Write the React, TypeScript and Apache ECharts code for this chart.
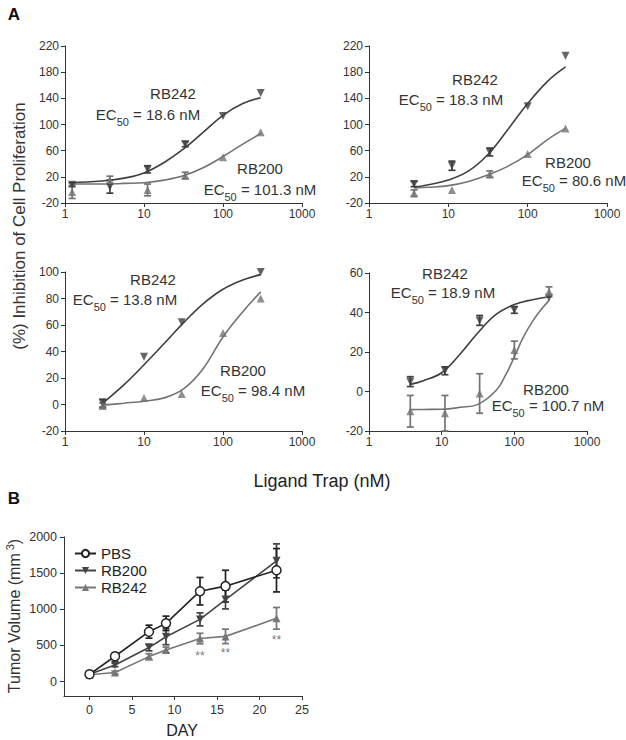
import React, { useEffect, useRef } from "react";
import * as echarts from "echarts";

// ---------- Panel A data ----------
// Top-left
const TL_X = [1.23, 3.7, 11.1, 33.3, 100, 300];
const TL_RB242 = [8, 5, 31.5, 70, 113, 148];
const TL_RB242_ERR = [3, 10, 5.5, 4, 0, 0];
const TL_RB200 = [-3, 15, 0, 22, 50, 88];
const TL_RB200_ERR = [10, 6, 9, 5, 0, 0];
const TL_FIT_X = [1.2, 1.8, 3.2, 5.6, 10, 18, 32, 56, 100, 178, 300];
const TL_FIT242_Y = [11, 12, 14, 18, 26, 42, 63, 88, 114, 132, 141];
const TL_FIT200_Y = [9, 9, 9, 10, 11, 15, 22, 34, 51, 70, 86];

// Top-right
const TR_X = [3.7, 11.1, 33.3, 100, 300];
const TR_RB242 = [9, 37, 58, 128, 205];
const TR_RB242_ERR = [4, 7, 6, 0, 0];
const TR_RB200 = [-5, 0, 24, 55, 94];
const TR_RB200_ERR = [5, 0, 5, 0, 0];
const TR_FIT_X = [3.7, 5.6, 10, 18, 32, 56, 100, 178, 300];
const TR_FIT242_Y = [4, 8, 15, 29, 55, 92, 132, 166, 188];
const TR_FIT200_Y = [3, 4, 6.5, 13, 23, 36, 54, 77, 94];

// Bottom-left
const BL_X242 = [3, 10, 30, 300];
const BL_RB242 = [1, 36, 62, 100];
const BL_RB242_ERR = [3, 0, 0, 0];
const BL_X200 = [3, 10, 30, 100, 300];
const BL_RB200 = [-1, 5, 8, 54, 80];
const BL_RB200_ERR = [2, 0, 0, 0, 0];
const BL_FIT_X = [3, 5.6, 10, 18, 32, 56, 100, 178, 300];
const BL_FIT242_Y = [1, 15, 30, 46, 62, 76, 87, 94, 98];
const BL_FIT200_Y = [-0.5, 1, 2.5, 5, 12, 27, 51, 70, 85];

// Bottom-right
const BR_X = [3.7, 11.1, 33.3, 100, 300];
const BR_RB242 = [5, 10.5, 36, 41.3, 47.5];
const BR_RB242_ERR = [2.5, 2, 2.5, 1.7, 0];
const BR_RB200 = [-10, -11, -1, 21, 50.5];
const BR_RB200_ERR = [8, 9, 10, 4.5, 2.5];
const BR_FIT242_X = [3.7, 5.6, 10, 18, 32, 56, 100, 178, 300];
const BR_FIT242_Y = [3.6, 5.5, 9.5, 19, 30, 39, 44, 46.5, 48];
const BR_FIT200_X = [3.7, 5.6, 10, 18, 32, 56, 75, 100, 133, 178, 240, 300];
const BR_FIT200_Y = [-9.2, -9.1, -9, -8, -6.4, 0.5, 8, 17.5, 27.5, 35.5, 42, 46];

const Y_TICKS_TOP = [-20, 20, 60, 100, 140, 180, 220];
const Y_TICKS_BL = [-20, 0, 20, 40, 60, 80, 100];
const Y_TICKS_BR = [-20, 0, 20, 40, 60];

// ---------- Panel B data ----------
const DAYS = [0, 3, 7, 9, 13, 16, 22];
const PBS = [100, 350, 690, 805, 1250, 1320, 1540];
const PBS_ERR = [20, 45, 90, 100, 190, 220, 300];
const RB200_B = [100, 230, 470, 620, 860, 1135, 1670];
const RB200_B_ERR = [20, 25, 45, 110, 90, 130, 235];
const RB242_B = [95, 125, 345, 437, 595, 625, 875];
const RB242_B_ERR = [20, 20, 40, 40, 73, 100, 150];
const STAR_DAYS = [13, 16, 22];
const STAR_Y = [350, 390, 570];
const DAY_TICKS = [0, 5, 10, 15, 20, 25];
const VOL_TICKS = [0, 500, 1000, 1500, 2000];

const DARK = "#3f3f3f";
const LIGHT = "#737373";
const FONT = "Liberation Sans, Arial, sans-serif";
const AXIS_COLOR = "#333";

function pairs(xs: number[], ys: number[]) {
  return xs.map((x, i) => [x, ys[i]]);
}

function errData(xs: number[], ys: number[], es: number[]) {
  return xs.map((x, i) => [x, ys[i], es[i]]).filter((d) => d[2] > 0);
}

function errSeries(idx: number, xs: number[], ys: number[], es: number[], color: string) {
  return {
    type: "custom",
    xAxisIndex: idx,
    yAxisIndex: idx,
    z: 3,
    silent: true,
    data: errData(xs, ys, es),
    encode: { x: 0, y: 1 },
    renderItem: (params: any, api: any) => {
      const x = api.value(0);
      const y = api.value(1);
      const e = api.value(2);
      const top = api.coord([x, y + e]);
      const bot = api.coord([x, y - e]);
      const hw = 3.5;
      const style = { stroke: color, lineWidth: 1.7 };
      return {
        type: "group",
        children: [
          { type: "line", shape: { x1: top[0], y1: top[1], x2: bot[0], y2: bot[1] }, style },
          { type: "line", shape: { x1: top[0] - hw, y1: top[1], x2: top[0] + hw, y2: top[1] }, style },
          { type: "line", shape: { x1: bot[0] - hw, y1: bot[1], x2: bot[0] + hw, y2: bot[1] }, style },
        ],
      };
    },
  };
}

function pointSeries(idx: number, xs: number[], ys: number[], color: string, down: boolean) {
  return {
    type: "scatter",
    xAxisIndex: idx,
    yAxisIndex: idx,
    z: 4,
    silent: true,
    symbol: "triangle",
    symbolRotate: down ? 180 : 0,
    symbolSize: 8,
    itemStyle: { color },
    data: pairs(xs, ys),
  };
}

function fitSeries(idx: number, xs: number[], ys: number[], color: string) {
  return {
    type: "line",
    xAxisIndex: idx,
    yAxisIndex: idx,
    z: 2,
    silent: true,
    smooth: 0.4,
    showSymbol: false,
    symbol: "none",
    lineStyle: { color, width: 1.6 },
    data: pairs(xs, ys),
  };
}

const axisLineStyle = { show: true, onZero: false, lineStyle: { color: AXIS_COLOR, width: 1 } };
const tickStyle = { show: true, length: 4, lineStyle: { color: AXIS_COLOR, width: 1 } };

function logX(idx: number) {
  return {
    type: "log",
    gridIndex: idx,
    logBase: 10,
    min: 1,
    max: 1000,
    axisLine: axisLineStyle,
    axisTick: tickStyle,
    splitLine: { show: false },
    minorTick: { show: false },
    axisLabel: {
      color: AXIS_COLOR,
      fontSize: 12,
      fontFamily: FONT,
      margin: 5,
      formatter: (v: number) => String(Math.round(v)),
    },
  };
}

function valAxis(idx: number, min: number, max: number, ticks: number[], size = 12, margin = 6) {
  return {
    type: "value",
    gridIndex: idx,
    min,
    max,
    axisLine: axisLineStyle,
    splitLine: { show: false },
    axisTick: { ...tickStyle, customValues: ticks },
    axisLabel: {
      color: AXIS_COLOR,
      fontSize: size,
      fontFamily: FONT,
      margin,
      customValues: ticks,
      formatter: (v: number) => String(v),
    },
  };
}

function label(x: number, y: number, text: string, size = 15, extra: any = {}) {
  return {
    type: "text",
    x,
    y,
    silent: true,
    ...extra,
    style: {
      text,
      fill: "#333",
      fontSize: size,
      fontFamily: FONT,
      align: "center",
      verticalAlign: "middle",
      textAlign: "center",
      textVerticalAlign: "middle",
      ...(extra.style || {}),
    },
  };
}

function ecLabel(x: number, y: number, val: string) {
  return {
    type: "text",
    x,
    y,
    silent: true,
    style: {
      text: "EC{sub|50} = " + val + " nM",
      fill: "#333",
      fontSize: 15,
      fontFamily: FONT,
      lineHeight: 26,
      align: "center",
      verticalAlign: "middle",
      textAlign: "center",
      textVerticalAlign: "middle",
      rich: {
        sub: {
          fontSize: 11,
          lineHeight: 11,
          verticalAlign: "bottom",
          fill: "#333",
          fontFamily: FONT,
        },
      },
    },
  };
}

export default function App() {
  const ref = useRef<HTMLDivElement>(null);

  useEffect(() => {
    document.body.style.margin = "0";
    if (!ref.current) return;
    const chart = echarts.init(ref.current, null, { renderer: "svg" });

    const option: any = {
      animation: false,
      textStyle: { fontFamily: FONT },
      grid: [
        { left: 65, top: 46, width: 237, height: 157 },
        { left: 369, top: 46, width: 238, height: 157 },
        { left: 65, top: 272, width: 237, height: 159 },
        { left: 369, top: 273, width: 218, height: 158 },
        { left: 64, top: 537, width: 238, height: 159 },
      ],
      xAxis: [
        logX(0),
        logX(1),
        logX(2),
        logX(3),
        valAxis(4, -3, 25, DAY_TICKS, 12.5, 7),
      ],
      yAxis: [
        valAxis(0, -20, 220, Y_TICKS_TOP),
        valAxis(1, -20, 220, Y_TICKS_TOP),
        valAxis(2, -20, 100, Y_TICKS_BL),
        valAxis(3, -20, 60, Y_TICKS_BR),
        valAxis(4, -200, 2000, VOL_TICKS, 12.5, 7),
      ],
      legend: {
        data: ["PBS", "RB200", "RB242"],
        orient: "vertical",
        left: 69,
        top: 541,
        itemWidth: 21,
        itemHeight: 9,
        itemGap: 2,
        selectedMode: false,
        textStyle: { fontSize: 15, color: "#222", fontFamily: FONT, lineHeight: 15 },
      },
      series: [
        // TL
        fitSeries(0, TL_FIT_X, TL_FIT242_Y, DARK),
        fitSeries(0, TL_FIT_X, TL_FIT200_Y, LIGHT),
        errSeries(0, TL_X, TL_RB242, TL_RB242_ERR, DARK),
        errSeries(0, TL_X, TL_RB200, TL_RB200_ERR, LIGHT),
        pointSeries(0, TL_X, TL_RB242, DARK, true),
        pointSeries(0, TL_X, TL_RB200, LIGHT, false),
        // TR
        fitSeries(1, TR_FIT_X, TR_FIT242_Y, DARK),
        fitSeries(1, TR_FIT_X, TR_FIT200_Y, LIGHT),
        errSeries(1, TR_X, TR_RB242, TR_RB242_ERR, DARK),
        errSeries(1, TR_X, TR_RB200, TR_RB200_ERR, LIGHT),
        pointSeries(1, TR_X, TR_RB242, DARK, true),
        pointSeries(1, TR_X, TR_RB200, LIGHT, false),
        // BL
        fitSeries(2, BL_FIT_X, BL_FIT242_Y, DARK),
        fitSeries(2, BL_FIT_X, BL_FIT200_Y, LIGHT),
        errSeries(2, BL_X242, BL_RB242, BL_RB242_ERR, DARK),
        errSeries(2, BL_X200, BL_RB200, BL_RB200_ERR, LIGHT),
        pointSeries(2, BL_X242, BL_RB242, DARK, true),
        pointSeries(2, BL_X200, BL_RB200, LIGHT, false),
        // BR
        fitSeries(3, BR_FIT242_X, BR_FIT242_Y, DARK),
        fitSeries(3, BR_FIT200_X, BR_FIT200_Y, LIGHT),
        errSeries(3, BR_X, BR_RB242, BR_RB242_ERR, DARK),
        errSeries(3, BR_X, BR_RB200, BR_RB200_ERR, LIGHT),
        pointSeries(3, BR_X, BR_RB242, DARK, true),
        pointSeries(3, BR_X, BR_RB200, LIGHT, false),
        // B
        errSeries(4, DAYS, RB242_B, RB242_B_ERR, "#777"),
        errSeries(4, DAYS, RB200_B, RB200_B_ERR, "#444"),
        errSeries(4, DAYS, PBS, PBS_ERR, "#222"),
        {
          name: "RB242",
          type: "line",
          xAxisIndex: 4,
          yAxisIndex: 4,
          z: 4,
          symbol: "triangle",
          symbolSize: 8,
          itemStyle: { color: "#777" },
          lineStyle: { color: "#777", width: 1.6 },
          data: pairs(DAYS, RB242_B),
        },
        {
          name: "RB200",
          type: "line",
          xAxisIndex: 4,
          yAxisIndex: 4,
          z: 5,
          symbol: "triangle",
          symbolRotate: 180,
          symbolSize: 8,
          itemStyle: { color: "#444" },
          lineStyle: { color: "#444", width: 1.6 },
          data: pairs(DAYS, RB200_B),
        },
        {
          name: "PBS",
          type: "line",
          xAxisIndex: 4,
          yAxisIndex: 4,
          z: 6,
          symbol: "circle",
          symbolSize: 9,
          itemStyle: { color: "#fff", borderColor: "#222", borderWidth: 1.5 },
          lineStyle: { color: "#222", width: 1.6 },
          data: pairs(DAYS, PBS),
        },
        {
          type: "scatter",
          xAxisIndex: 4,
          yAxisIndex: 4,
          z: 6,
          silent: true,
          symbolSize: 1,
          itemStyle: { color: "rgba(0,0,0,0)" },
          label: {
            show: true,
            position: "inside",
            formatter: "**",
            color: "#555",
            fontSize: 12,
            fontFamily: FONT,
          },
          data: pairs(STAR_DAYS, STAR_Y),
        },
      ],
      graphic: [
        label(14, 14, "A", 17, { style: { fontWeight: "bold", fill: "#111" } }),
        label(14, 498, "B", 17, { style: { fontWeight: "bold", fill: "#111" } }),
        // TL
        label(173, 93, "RB242"),
        ecLabel(148, 114, "18.6"),
        label(260, 168, "RB200"),
        ecLabel(260, 189, "101.3"),
        // TR
        label(475, 79, "RB242"),
        ecLabel(451, 99, "18.3"),
        label(568, 162, "RB200"),
        ecLabel(574, 180, "80.6"),
        // BL
        label(153, 279, "RB242"),
        ecLabel(125, 299, "13.8"),
        label(243, 370, "RB200"),
        ecLabel(253, 390, "98.4"),
        // BR
        label(445, 273, "RB242"),
        ecLabel(443, 292, "18.9"),
        label(546, 389, "RB200"),
        ecLabel(548, 405, "100.7"),
        // axis titles
        label(322, 481, "Ligand Trap (nM)", 18, { style: { fill: "#222" } }),
        label(19, 226, "(%) Inhibition of Cell Proliferation", 17, {
          rotation: Math.PI / 2,
          style: { fill: "#333" },
        }),
        label(182, 730, "DAY", 16, { style: { fill: "#222" } }),
        {
          type: "text",
          x: 14,
          y: 616,
          rotation: Math.PI / 2,
          silent: true,
          style: {
            text: "Tumor Volume (mm{sup|3})",
            fill: "#333",
            fontSize: 16,
            fontFamily: FONT,
            lineHeight: 20,
            align: "center",
            verticalAlign: "middle",
            textAlign: "center",
            textVerticalAlign: "middle",
            rich: {
              sup: {
                fontSize: 11,
                lineHeight: 11,
                verticalAlign: "top",
                fill: "#333",
                fontFamily: FONT,
                padding: [0, 0, 0, 3],
              },
            },
          },
        },
      ],
    };

    chart.setOption(option);
    return () => {
      chart.dispose();
    };
  }, []);

  return <div ref={ref} style={{ width: 626, height: 740 }} />;
}
